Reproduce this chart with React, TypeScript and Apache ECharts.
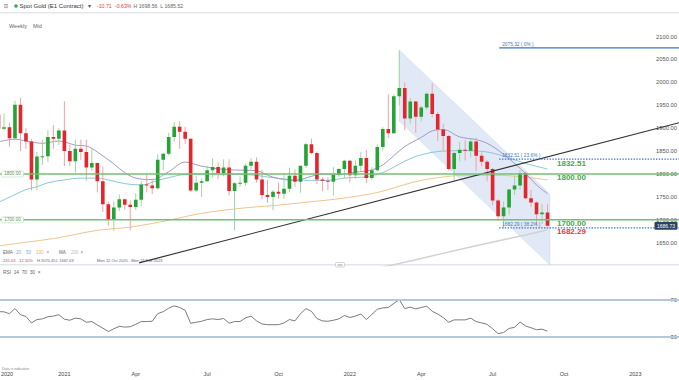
import React, { useEffect, useRef } from "react";
import * as echarts from "echarts";

const FONT = '"Liberation Sans", Arial, Helvetica, sans-serif';

// Weekly candles, week 0 = Mon 12 Oct 2020, week 100 = Mon 12 Sep 2022
const opens = [
  1930, 1899, 1902, 1878, 1951, 1889, 1871, 1788, 1838, 1839,
  1881, 1877, 1895, 1850, 1828, 1855, 1848, 1814, 1824, 1784,
  1734, 1700, 1727, 1745, 1733, 1728, 1744, 1777, 1775, 1769,
  1831, 1844, 1881, 1903, 1892, 1877, 1764, 1781, 1784, 1808,
  1815, 1802, 1814, 1763, 1780, 1781, 1818, 1827, 1788, 1754,
  1750, 1761, 1757, 1768, 1796, 1783, 1818, 1865, 1846, 1788,
  1785, 1783, 1798, 1811, 1829, 1797, 1818, 1835, 1791, 1808,
  1859, 1898, 1889, 1970, 1988, 1921, 1958, 1925, 1945, 1975,
  1931, 1897, 1883, 1811, 1846, 1853, 1851, 1871, 1840, 1827,
  1811, 1742, 1708, 1727, 1766, 1775, 1802, 1747, 1738, 1712,
  1716,
];
const closes = [
  1899, 1902, 1878, 1951, 1889, 1871, 1788, 1838, 1839, 1881,
  1877, 1895, 1850, 1828, 1855, 1848, 1814, 1824, 1784, 1734,
  1700, 1727, 1745, 1733, 1728, 1744, 1777, 1775, 1769, 1831,
  1844, 1881, 1903, 1892, 1877, 1764, 1781, 1784, 1808, 1815,
  1802, 1814, 1763, 1780, 1781, 1818, 1827, 1788, 1754, 1750,
  1761, 1757, 1768, 1796, 1783, 1818, 1865, 1846, 1788, 1785,
  1783, 1798, 1811, 1829, 1797, 1818, 1835, 1791, 1808, 1859,
  1898, 1889, 1970, 1988, 1921, 1958, 1925, 1945, 1975, 1931,
  1897, 1883, 1811, 1846, 1853, 1851, 1871, 1840, 1827, 1811,
  1742, 1708, 1727, 1766, 1775, 1802, 1747, 1738, 1712, 1716,
  1687,
];
const lows = [
  1890, 1895, 1860, 1874, 1850, 1855, 1764, 1765, 1820, 1826,
  1855, 1863, 1817, 1817, 1803, 1831, 1785, 1807, 1760, 1717,
  1687, 1676, 1719, 1722, 1677, 1721, 1730, 1760, 1756, 1766,
  1808, 1841, 1870, 1855, 1866, 1761, 1760, 1750, 1783, 1791,
  1789, 1795, 1753, 1677, 1772, 1774, 1806, 1781, 1745, 1737,
  1721, 1746, 1746, 1760, 1772, 1759, 1813, 1843, 1778, 1762,
  1765, 1753, 1793, 1789, 1782, 1790, 1806, 1780, 1788, 1806,
  1851, 1878, 1888, 1950, 1895, 1910, 1890, 1915, 1940, 1924,
  1872, 1850, 1808, 1787, 1828, 1829, 1836, 1806, 1816, 1784,
  1732, 1697, 1681, 1711, 1754, 1765, 1745, 1728, 1688, 1691,
  1686,
];
const highs = [
  1933, 1932, 1912, 1960, 1966, 1900, 1876, 1848, 1875, 1896,
  1907, 1900, 1959, 1864, 1875, 1875, 1875, 1855, 1825, 1816,
  1740, 1740, 1755, 1746, 1742, 1758, 1784, 1798, 1790, 1843,
  1846, 1890, 1913, 1916, 1903, 1878, 1795, 1790, 1818, 1834,
  1825, 1832, 1832, 1782, 1795, 1823, 1834, 1836, 1809, 1787,
  1765, 1781, 1800, 1814, 1810, 1818, 1868, 1877, 1849, 1793,
  1793, 1815, 1813, 1831, 1831, 1830, 1848, 1853, 1815, 1865,
  1902, 1974, 1974, 2070, 2000, 1966, 1960, 1949, 1978, 1998,
  1936, 1910, 1885, 1849, 1870, 1874, 1877, 1879, 1847, 1830,
  1813, 1745, 1740, 1767, 1796, 1808, 1805, 1765, 1740, 1735,
  1735,
];
const rsi14 = [
  57.4, 57.2, 55.2, 60.7, 54.1, 52.2, 45.2, 48.9, 49.6, 51.9,
  52.6, 54.1, 49.3, 48.1, 50.4, 49.6, 45.9, 46.7, 43.0, 39.6,
  35.9, 38.9, 41.5, 40.7, 41.1, 43.7, 46.7, 46.7, 47.0, 55.2,
  57.4, 61.1, 63.7, 61.9, 58.9, 44.8, 45.9, 47.0, 48.9, 49.6,
  48.9, 50.0, 44.8, 46.7, 46.7, 50.7, 52.6, 47.4, 44.1, 43.3,
  43.3, 43.3, 45.2, 48.9, 47.4, 55.2, 60.7, 57.8, 50.0, 47.4,
  47.0, 48.1, 49.6, 53.3, 51.1, 52.6, 54.8, 48.9, 54.4, 60.0,
  61.5, 61.9, 66.3, 70.4, 60.7, 62.2, 60.4, 61.9, 63.3, 57.8,
  54.8, 51.1, 45.9, 48.5, 48.5, 48.5, 50.4, 46.7, 45.2, 43.7,
  38.9, 33.7, 34.8, 39.3, 40.4, 46.3, 41.9, 40.0, 37.8, 38.5,
  36.3,
];

// moving averages: [week, value]
const ema20 = [
  [0, 1870], [3, 1876], [5, 1872], [8, 1867], [11, 1872], [14, 1863], [16, 1861],
  [18, 1848], [21, 1822], [23, 1803], [25, 1791], [28, 1788], [31, 1805], [34, 1826],
  [37, 1817], [41, 1810], [45, 1808], [47, 1807], [50, 1793], [54, 1786], [57, 1795],
  [59, 1800], [62, 1799], [65, 1804], [68, 1809], [70, 1820], [72, 1840], [74, 1860],
  [77, 1880], [79, 1894], [81, 1897], [84, 1881], [87, 1875], [89, 1867], [91, 1852],
  [94, 1823], [96, 1801], [98, 1776], [100, 1757],
];
const ema50 = [
  [0, 1738], [3, 1755], [5, 1766], [7, 1772], [9, 1781], [12, 1787], [15, 1791],
  [18, 1791], [20, 1787], [23, 1779], [26, 1776], [29, 1786], [31, 1792], [34, 1799],
  [40, 1800], [45, 1799], [50, 1792], [54, 1787], [60, 1786], [63, 1791], [67, 1794],
  [70, 1803], [72, 1815], [74, 1828], [77, 1842], [81, 1850], [85, 1851], [89, 1848],
  [92, 1839], [96, 1823], [100, 1811],
];
const ema100 = [
  [0, 1643], [5, 1651], [10, 1659], [14, 1668], [18, 1677], [24, 1684], [28, 1692],
  [31, 1699], [37, 1714], [44, 1725], [50, 1731], [55, 1737], [62, 1746], [68, 1757],
  [71, 1766], [74, 1777], [77, 1786], [80, 1792], [85, 1797], [91, 1797], [96, 1793],
  [100, 1787],
];
const ma200 = [[64, 1582], [72, 1602], [80, 1624], [88, 1646], [96, 1667], [100, 1678]];

const trendLine = [[25.6, 1606], [123.95, 1912]];
const channel = [[73, 2070.45], [100.45, 1756.3], [100.45, 1601.3], [73, 1915.7]];

const greenLevels = [1800, 1700];
const fibLevels = [2075.32, 1832.51, 1682.29];
const fibRatios = ["0%", "23.6%", "38.2%"];
const fibStartWeek = 91.2;
const keyLevels = [1832.51, 1800, 1700, 1682.29];
const lastPrice = 1686.73;
const rsiLevels = [70, 30];

const xTickWeeks = [1.55, 12, 25, 38, 51, 64, 77, 90, 103, 116];
const xTickLabels = ["2020", "2021", "Apr", "Jul", "Oct", "2022", "Apr", "Jul", "Oct", "2023"];

const X_MIN = 0.273;
const X_MAX = 123.95;

const UP = "#26a335";
const DOWN = "#e3252e";
const UP_WICK = "#9fd4a4";
const DOWN_WICK = "#f1a2a6";
const KEY_COLORS = ["#45a848", "#45a848", "#45a848", "#e53935"];

function txt(x: number, y: number, text: string, fill: string, fontSize: number, extra: any = {}) {
  return {
    type: "text",
    x,
    y,
    silent: true,
    style: { text, fill, fontSize, fontFamily: FONT, align: "left", verticalAlign: "middle", ...extra },
  };
}

function buildOption() {
  const candleData = opens.map((o, i) => [i, o, closes[i], lows[i], highs[i]]);

  return {
    animation: false,
    backgroundColor: "#ffffff",
    textStyle: { fontFamily: FONT },
    grid: [
      { left: 0, right: 0, top: 14, height: 251.6, containLabel: false, outerBoundsMode: "none" },
      { left: 0, right: 0, top: 272.25, height: 92.5, containLabel: false, outerBoundsMode: "none" },
    ],
    xAxis: [
      { type: "value", gridIndex: 0, min: X_MIN, max: X_MAX, show: false },
      {
        type: "value",
        gridIndex: 1,
        min: X_MIN,
        max: X_MAX,
        axisLine: { show: false },
        axisTick: { show: false },
        splitLine: { show: false },
        axisLabel: {
          customValues: xTickWeeks,
          color: "#444",
          fontSize: 5.5,
          margin: 6,
          fontFamily: FONT,
          formatter: (v: number) => {
            const k = xTickWeeks.findIndex((w) => Math.abs(w - v) < 1e-6);
            return k >= 0 ? xTickLabels[k] : "";
          },
        },
      },
    ],
    yAxis: [
      {
        type: "value",
        gridIndex: 0,
        position: "right",
        min: 1600,
        max: 2149.3,
        interval: 50,
        axisLine: { show: false },
        axisTick: { show: false },
        splitLine: { show: false },
        axisLabel: {
          inside: true,
          margin: 2,
          fontSize: 5.8,
          color: "#555",
          fontFamily: FONT,
          showMinLabel: false,
          showMaxLabel: false,
          formatter: (v: number) => v.toFixed(2),
        },
      },
      {
        type: "value",
        gridIndex: 1,
        position: "right",
        min: 0,
        max: 100,
        interval: 10,
        axisLine: { show: false },
        axisTick: { show: false },
        splitLine: { show: false },
        axisLabel: {
          inside: true,
          margin: 2,
          fontSize: 5.8,
          color: "#555",
          fontFamily: FONT,
          formatter: (v: number) => (rsiLevels.includes(v) ? String(v) : ""),
        },
      },
    ],
    series: [
      {
        type: "custom",
        name: "channel",
        xAxisIndex: 0,
        yAxisIndex: 0,
        clip: true,
        z: 1,
        silent: true,
        data: [[channel[0][0], channel[0][1]]],
        encode: { x: 0, y: 1 },
        renderItem: (_p: any, api: any) => ({
          type: "polygon",
          shape: { points: channel.map((c) => api.coord(c)) },
          style: { fill: "rgba(160,188,224,0.33)", stroke: "rgba(160,188,224,0.45)", lineWidth: 0.5 },
        }),
      },
      {
        type: "line",
        name: "MA 200",
        xAxisIndex: 0,
        yAxisIndex: 0,
        data: ma200,
        showSymbol: false,
        smooth: 0.3,
        z: 2,
        lineStyle: { color: "#d2d2d2", width: 1.5 },
      },
      {
        type: "line",
        name: "EMA 100",
        xAxisIndex: 0,
        yAxisIndex: 0,
        data: ema100,
        showSymbol: false,
        smooth: 0.35,
        z: 2,
        lineStyle: { color: "#ecc58c", width: 1 },
      },
      {
        type: "line",
        name: "EMA 50",
        xAxisIndex: 0,
        yAxisIndex: 0,
        data: ema50,
        showSymbol: false,
        smooth: 0.35,
        z: 2,
        lineStyle: { color: "#84c9d8", width: 1 },
      },
      {
        type: "line",
        name: "EMA 20",
        xAxisIndex: 0,
        yAxisIndex: 0,
        data: ema20,
        showSymbol: false,
        smooth: 0.35,
        z: 2,
        lineStyle: { color: "#a597c8", width: 1 },
      },
      {
        type: "custom",
        name: "candles",
        xAxisIndex: 0,
        yAxisIndex: 0,
        clip: true,
        z: 3,
        data: candleData,
        encode: { x: 0, y: [1, 2, 3, 4] },
        renderItem: (_p: any, api: any) => {
          const i = api.value(0);
          const o = api.value(1);
          const c = api.value(2);
          const l = api.value(3);
          const h = api.value(4);
          const pO = api.coord([i, o]);
          const yC = api.coord([i, c])[1];
          const yL = api.coord([i, l])[1];
          const yH = api.coord([i, h])[1];
          const bw = api.size([1, 0])[0] * 0.66;
          const x = pO[0];
          const up = c >= o;
          const top = Math.min(pO[1], yC);
          const hh = Math.max(Math.abs(pO[1] - yC), 1);
          return {
            type: "group",
            children: [
              {
                type: "line",
                shape: { x1: x, y1: yH, x2: x, y2: yL },
                style: { stroke: up ? UP_WICK : DOWN_WICK, lineWidth: 1 },
              },
              {
                type: "rect",
                shape: { x: x - bw / 2, y: top, width: bw, height: hh },
                style: { fill: up ? UP : DOWN },
              },
            ],
          };
        },
      },
      {
        type: "line",
        name: "trend",
        xAxisIndex: 0,
        yAxisIndex: 0,
        data: trendLine,
        showSymbol: false,
        z: 4,
        lineStyle: { color: "#333333", width: 1.15 },
      },
      {
        type: "custom",
        name: "levels",
        xAxisIndex: 0,
        yAxisIndex: 0,
        z: 5,
        silent: true,
        data: [[X_MIN, greenLevels[0]]],
        encode: { x: 0, y: 1 },
        renderItem: (params: any, api: any) => {
          const cs = params.coordSys;
          const left = cs.x;
          const right = cs.x + cs.width;
          const children: any[] = [];
          greenLevels.forEach((v) => {
            const y = api.coord([X_MIN, v])[1];
            children.push({
              type: "line",
              shape: { x1: left, y1: y, x2: right, y2: y },
              style: { stroke: "#74bf74", lineWidth: 1.5 },
            });
            children.push({
              type: "rect",
              shape: { x: 1.5, y: y - 3, width: 22, height: 6, r: 1 },
              style: { fill: "#ffffff", stroke: "#bcdcbc", lineWidth: 0.6 },
            });
            children.push({
              type: "text",
              x: 12.5,
              y,
              style: {
                text: v.toFixed(2),
                fill: "#5f8f5f",
                fontSize: 4.6,
                fontFamily: FONT,
                align: "center",
                verticalAlign: "middle",
              },
            });
          });
          fibLevels.forEach((v, k) => {
            const p = api.coord([fibStartWeek, v]);
            const st: any = { stroke: "#3d72c8", lineWidth: 1.3 };
            if (k > 0) st.lineDash = [1.4, 1.4];
            children.push({ type: "line", shape: { x1: p[0], y1: p[1], x2: right, y2: p[1] }, style: st });
            children.push({
              type: "text",
              x: p[0] + 3,
              y: p[1] - 1,
              style: {
                text: `${v.toFixed(2)} ( ${fibRatios[k]} )`,
                fill: "#4a78b8",
                fontSize: 4.8,
                fontFamily: FONT,
                align: "left",
                verticalAlign: "bottom",
              },
            });
          });
          keyLevels.forEach((v, k) => {
            const y = api.coord([X_MIN, v])[1];
            children.push({
              type: "text",
              x: 557,
              y: y + 4,
              style: {
                text: v.toFixed(2),
                fill: KEY_COLORS[k],
                fontSize: 8,
                fontWeight: "bold",
                fontFamily: FONT,
                align: "left",
                verticalAlign: "middle",
              },
            });
          });
          const yP = api.coord([X_MIN, lastPrice])[1];
          children.push({
            type: "rect",
            shape: { x: right - 24.5, y: yP - 3.8, width: 23, height: 7.6, r: 1 },
            style: { fill: "#2d4261" },
          });
          children.push({
            type: "text",
            x: right - 13,
            y: yP,
            style: {
              text: lastPrice.toFixed(2),
              fill: "#ffffff",
              fontSize: 5,
              fontFamily: FONT,
              align: "center",
              verticalAlign: "middle",
            },
          });
          return { type: "group", children };
        },
      },
      {
        type: "line",
        name: "RSI",
        xAxisIndex: 1,
        yAxisIndex: 1,
        data: rsi14.map((v, i) => [i, v]),
        showSymbol: false,
        z: 3,
        lineStyle: { color: "#7b7b7b", width: 1 },
        markLine: {
          silent: true,
          symbol: "none",
          label: { show: false },
          lineStyle: { color: "#b6c7de", width: 2, type: "solid" },
          data: rsiLevels.map((v) => ({ yAxis: v })),
        },
      },
    ],
    graphic: [
      { type: "rect", silent: true, shape: { x: 0, y: 12, width: 679, height: 1.5 }, style: { fill: "#e4e7ed" } },
      { type: "rect", silent: true, shape: { x: 4, y: 4, width: 4, height: 0.7 }, style: { fill: "#8a8a8a" } },
      { type: "rect", silent: true, shape: { x: 4, y: 5.7, width: 4, height: 0.7 }, style: { fill: "#8a8a8a" } },
      { type: "rect", silent: true, shape: { x: 4, y: 7.4, width: 4, height: 0.7 }, style: { fill: "#8a8a8a" } },
      { type: "circle", silent: true, shape: { cx: 16, cy: 6, r: 1.8 }, style: { fill: "#3aa757" } },
      txt(19.5, 6.2, "Spot Gold (E1 Contract)", "#333", 6),
      txt(88, 6.2, "▾", "#555", 5.5),
      txt(97, 6.2, "-10.71", "#e03a3e", 5.2),
      txt(115, 6.2, "-0.63%", "#e03a3e", 5.2),
      txt(133.5, 6.2, "H 1698.56  L 1685.52", "#666", 5.2),
      txt(9, 26, "Weekly", "#666", 5.5),
      txt(33, 26, "Mid", "#666", 5.5),
      txt(3, 252, "EMA", "#666", 4.5),
      txt(16, 252, "20", "#a597c8", 4.5),
      txt(26, 252, "50", "#6dbcd0", 4.5),
      txt(36, 252, "100", "#e4b572", 4.5),
      txt(46.5, 252, "×", "#888", 4.5),
      txt(59, 252, "MA", "#666", 4.5),
      txt(71, 252, "200", "#bdbdbd", 4.5),
      txt(80.5, 252, "×", "#888", 4.5),
      txt(2, 260, "-241.03", "#e03a3e", 4),
      txt(18, 260, "-12.50%", "#e03a3e", 4),
      txt(37, 260, "H 2070.45", "#666", 4),
      txt(56, 260, "L 1667.63", "#666", 4),
      txt(97, 260, "Mon 12 Oct 2020 - Mon 27 Feb 2023", "#666", 4),
      { type: "rect", silent: true, shape: { x: 0, y: 264, width: 679, height: 1.5 }, style: { fill: "#e2e5eb" } },
      {
        type: "rect",
        silent: true,
        shape: { x: 335.5, y: 262.5, width: 9, height: 4.5, r: 1 },
        style: { fill: "#ffffff", stroke: "#b8b8b8", lineWidth: 0.6 },
      },
      { type: "rect", silent: true, shape: { x: 337.5, y: 264, width: 5, height: 0.5 }, style: { fill: "#999" } },
      { type: "rect", silent: true, shape: { x: 337.5, y: 265.3, width: 5, height: 0.5 }, style: { fill: "#999" } },
      txt(3, 272.5, "RSI  14  70  30  ×", "#666", 4.8),
      txt(2, 368.5, "Data is indicative", "#888", 3.6),
    ],
  };
}

export default function App() {
  const ref = useRef<HTMLDivElement>(null);
  useEffect(() => {
    if (!ref.current) return;
    const chart = echarts.init(ref.current, undefined, { renderer: "svg" });
    chart.setOption(buildOption() as any);
    return () => chart.dispose();
  }, []);
  return (
    <div
      ref={ref}
      style={{ position: "fixed", left: 0, top: 0, width: 679, height: 380, background: "#fff" }}
    />
  );
}
